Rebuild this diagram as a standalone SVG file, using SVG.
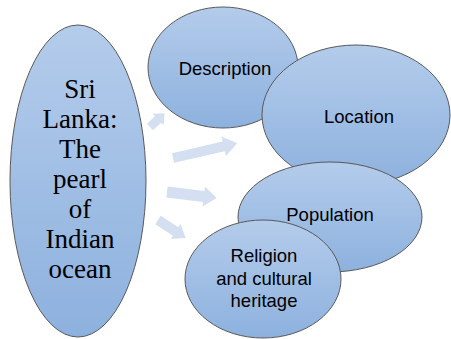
<svg xmlns="http://www.w3.org/2000/svg" width="451" height="339" viewBox="0 0 451 339">
<defs>
<linearGradient id="g" x1="0" y1="0" x2="0" y2="1">
<stop offset="0" stop-color="#b4cceb"/>
<stop offset="1" stop-color="#8db1de"/>
</linearGradient>
<style>
.n{fill:url(#g);stroke:#595959;stroke-width:1}
.a{fill:#d4e0f1}
.s{font-family:"Liberation Sans",Arial,sans-serif;font-size:18.5px;fill:#000;text-anchor:middle}
.t{font-family:"Liberation Serif","Times New Roman",serif;font-size:27px;fill:#000;text-anchor:middle}
</style>
</defs>
<rect width="451" height="339" fill="#fff"/>
<g id="sri-lanka">
<ellipse class="n" cx="78" cy="181" rx="68" ry="156"/>
<text class="t" x="80" y="98">Sri</text>
<text class="t" x="80" y="128">Lanka:</text>
<text class="t" x="80" y="158">The</text>
<text class="t" x="80" y="188">pearl</text>
<text class="t" x="80" y="218">of</text>
<text class="t" x="80" y="248">Indian</text>
<text class="t" x="80" y="278">ocean</text>
</g>
<g id="connectors">
<path class="a" transform="translate(150,127) rotate(-43)" d="M0,-4.5 L11,-4.5 L11,-8 L20,0 L11,8 L11,4.5 L0,4.5 Z"/>
<path class="a" transform="translate(173,158) rotate(-13)" d="M0,-5 L52,-5 L52,-10 L66,0 L52,10 L52,5 L0,5 Z"/>
<path class="a" transform="translate(167,192) rotate(7)" d="M0,-5.5 L37,-5.5 L37,-10 L50,0 L37,10 L37,5.5 L0,5.5 Z"/>
<path class="a" transform="translate(158,220) rotate(33)" d="M0,-5 L21,-5 L21,-9 L33,0 L21,9 L21,5 L0,5 Z"/>
</g>
<g id="description">
<ellipse class="n" cx="223" cy="67.5" rx="75" ry="60.5"/>
<text class="s" x="225" y="75">Description</text>
</g>
<g id="location">
<ellipse class="n" cx="356" cy="115" rx="94" ry="70"/>
<text class="s" x="359" y="123">Location</text>
</g>
<g id="population">
<ellipse class="n" cx="330" cy="217" rx="92" ry="55"/>
<text class="s" x="330" y="221">Population</text>
</g>
<g id="religion">
<ellipse class="n" cx="263" cy="279" rx="78" ry="59"/>
<text class="s" x="264" y="262">Religion</text>
<text class="s" x="264" y="285">and cultural</text>
<text class="s" x="264" y="307">heritage</text>
</g>
</svg>
